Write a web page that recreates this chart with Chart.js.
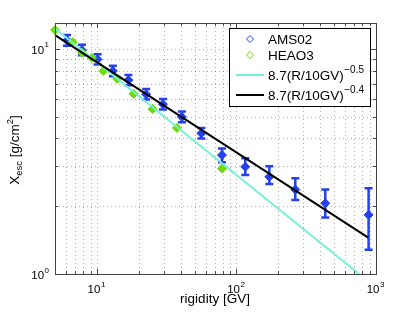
<!DOCTYPE html>
<html>
<head>
<meta charset="UTF-8">
<title>X_esc vs rigidity</title>
<script src="https://cdn.jsdelivr.net/npm/chart.js"></script>
<style>
  html, body { margin: 0; padding: 0; background: #fff; }
  canvas { display: block; }
</style>
</head>
<body>
<canvas id="myChart" width="415" height="312"></canvas>
<script>
  // AMS02 points with error bars
  const amsR = [6.1, 7.8, 10.1, 13.0, 16.8, 22.5, 29.7, 40.6, 56, 78.7, 115.6, 172, 264, 433, 885];
  const amsX = [10.9, 9.85, 8.96, 7.97, 7.25, 6.28, 5.67, 4.98, 4.21, 3.37, 2.99, 2.70, 2.37, 2.06, 1.83];
  const amsLo = [10.3, 9.35, 8.5, 7.55, 6.88, 5.95, 5.37, 4.72, 3.99, 3.13, 2.75, 2.51, 2.13, 1.78, 1.28];
  const amsHi = [11.5, 10.4, 9.45, 8.4, 7.65, 6.62, 5.98, 5.26, 4.45, 3.61, 3.26, 3.01, 2.66, 2.37, 2.40];

  // HEAO3 points
  const heaoR = [5.0, 6.7, 7.8, 9.2, 11.1, 14.0, 18.3, 25.0, 37.4, 78.7];
  const heaoX = [12.1, 10.7, 9.6, 9.1, 7.97, 7.35, 6.3, 5.4, 4.45, 2.94];

  // model lines, end points
  const lineR = [5, 757];
  const line05 = [12.3, 1.0];
  const lineR04 = [5, 880];
  const line04 = [11.48, 1.45];

  const xTicks = [5, 6, 7, 8, 9, 10, 20, 30, 40, 50, 60, 70, 80, 90, 100, 200, 300, 400, 500, 600, 700, 800, 900, 1000];
  const yTicks = [1, 2, 3, 4, 5, 6, 7, 8, 9, 10];
  const xMajor = [10, 100, 1000];
  const yMajor = [1, 10];

  const blue = 'rgb(35,65,235)';
  const green = 'rgb(110,220,0)';
  const cyan = 'rgb(120,240,215)';
  const axisColor = '#444';
  const FONT = '"Liberation Sans", Arial, sans-serif';

  function pts(xs, ys) {
    return xs.map((v, i) => ({ x: v, y: ys[i] }));
  }

  function drawPow(ctx, exp, x, y, align) {
    // "10" with superscript exponent, y = vertical middle of "10"
    ctx.font = '11.5px ' + FONT;
    const wb = ctx.measureText('10').width;
    ctx.font = '8px ' + FONT;
    const we = ctx.measureText(String(exp)).width;
    const total = wb + we + 0.5;
    let left = align === 'center' ? x - total / 2 : x - total;
    ctx.fillStyle = '#000';
    ctx.textAlign = 'left';
    ctx.textBaseline = 'alphabetic';
    ctx.font = '11.5px ' + FONT;
    ctx.fillText('10', left, y + 4.2);
    ctx.font = '8px ' + FONT;
    ctx.fillText(String(exp), left + wb + 0.5, y - 2.5);
  }

  const decor = {
    id: 'decor',
    beforeDatasetsDraw(chart) {
      const { ctx, chartArea: a, scales } = chart;
      const sx = scales.x, sy = scales.y;
      ctx.save();
      // dotted grid
      ctx.strokeStyle = 'rgba(0,0,0,0.3)';
      ctx.lineWidth = 1;
      ctx.setLineDash([1, 3]);
      xTicks.forEach(t => {
        const px = Math.round(sx.getPixelForValue(t)) + 0.5;
        if (px <= a.left + 1 || px >= a.right - 1) return;
        ctx.beginPath(); ctx.moveTo(px, a.top); ctx.lineTo(px, a.bottom); ctx.stroke();
      });
      yTicks.forEach(t => {
        const py = Math.round(sy.getPixelForValue(t)) + 0.5;
        if (py <= a.top + 1 || py >= a.bottom - 1) return;
        ctx.beginPath(); ctx.moveTo(a.left, py); ctx.lineTo(a.right, py); ctx.stroke();
      });
      ctx.setLineDash([]);
      // error bars
      ctx.strokeStyle = blue;
      ctx.lineWidth = 2.5;
      amsR.forEach((r, i) => {
        const px = sx.getPixelForValue(r);
        const p1 = sy.getPixelForValue(amsLo[i]);
        const p2 = sy.getPixelForValue(amsHi[i]);
        ctx.beginPath();
        ctx.moveTo(px, p1); ctx.lineTo(px, p2);
        ctx.moveTo(px - 4, p1); ctx.lineTo(px + 4, p1);
        ctx.moveTo(px - 4, p2); ctx.lineTo(px + 4, p2);
        ctx.stroke();
      });
      ctx.restore();
    },
    afterDraw(chart) {
      const { ctx, chartArea: a, scales } = chart;
      const sx = scales.x, sy = scales.y;
      ctx.save();
      // frame
      ctx.strokeStyle = axisColor;
      ctx.lineWidth = 1;
      ctx.strokeRect(Math.round(a.left) + 0.5, Math.round(a.top) + 0.5,
        Math.round(a.right - a.left), Math.round(a.bottom - a.top));
      // tick marks on all four sides
      ctx.beginPath();
      xTicks.forEach(t => {
        const px = Math.round(sx.getPixelForValue(t)) + 0.5;
        const len = xMajor.includes(t) ? 5 : 3;
        ctx.moveTo(px, a.bottom); ctx.lineTo(px, a.bottom - len);
        ctx.moveTo(px, a.top); ctx.lineTo(px, a.top + len);
      });
      yTicks.forEach(t => {
        const py = Math.round(sy.getPixelForValue(t)) + 0.5;
        const len = yMajor.includes(t) ? 5 : 3;
        ctx.moveTo(a.left, py); ctx.lineTo(a.left + len, py);
        ctx.moveTo(a.right, py); ctx.lineTo(a.right - len, py);
      });
      ctx.stroke();

      // tick labels
      xMajor.forEach(t => {
        drawPow(ctx, Math.round(Math.log10(t)), sx.getPixelForValue(t) - 0.5, 289, 'center');
      });
      yMajor.forEach(t => {
        drawPow(ctx, Math.round(Math.log10(t)), 49, sy.getPixelForValue(t) + 1, 'right');
      });

      // x axis title
      ctx.fillStyle = '#000';
      ctx.font = '13.5px ' + FONT;
      ctx.textAlign = 'center';
      ctx.textBaseline = 'alphabetic';
      ctx.fillText('rigidity [GV]', 215, 303);

      // y axis title, rotated
      ctx.save();
      ctx.translate(18.5, 150);
      ctx.rotate(-Math.PI / 2);
      const parts = [
        ['X', 13.5, 0], ['esc', 9.5, 3.5], [' [g/cm', 13.5, 0], ['2', 9.5, -5.5], [']', 13.5, 0]
      ];
      let w = 0;
      parts.forEach(p => { ctx.font = p[1] + 'px ' + FONT; w += ctx.measureText(p[0]).width; });
      let cx = -w / 2;
      ctx.textAlign = 'left';
      parts.forEach(p => {
        ctx.font = p[1] + 'px ' + FONT;
        ctx.fillText(p[0], cx, p[2]);
        cx += ctx.measureText(p[0]).width;
      });
      ctx.restore();

      // legend
      const lx = 229.5, ly = 28.5, lw = 141, lh = 78;
      ctx.fillStyle = '#fff';
      ctx.fillRect(lx, ly, lw, lh);
      ctx.strokeStyle = '#000';
      ctx.lineWidth = 1;
      ctx.strokeRect(lx, ly, lw, lh);

      function diamond(x, y, r, color) {
        ctx.beginPath();
        ctx.moveTo(x, y - r); ctx.lineTo(x + r, y); ctx.lineTo(x, y + r); ctx.lineTo(x - r, y);
        ctx.closePath();
        ctx.strokeStyle = color; ctx.lineWidth = 1; ctx.stroke();
      }
      diamond(250, 39, 3.5, blue);
      diamond(250, 55, 3.5, green);
      ctx.lineWidth = 2;
      ctx.strokeStyle = cyan;
      ctx.beginPath(); ctx.moveTo(236, 75); ctx.lineTo(264, 75); ctx.stroke();
      ctx.strokeStyle = '#000';
      ctx.beginPath(); ctx.moveTo(236, 95); ctx.lineTo(264, 95); ctx.stroke();

      ctx.fillStyle = '#000';
      ctx.textAlign = 'left';
      ctx.font = '13.5px ' + FONT;
      ctx.fillText('AMS02', 268, 44);
      ctx.fillText('HEAO3', 268, 60);
      const base = '8.7(R/10GV)';
      const bw = ctx.measureText(base).width;
      ctx.fillText(base, 268, 80);
      ctx.fillText(base, 268, 100);
      ctx.font = '10px ' + FONT;
      ctx.fillText('\u22120.5', 268 + bw + 0.5, 72.5);
      ctx.fillText('\u22120.4', 268 + bw + 0.5, 92.5);
      ctx.restore();
    }
  };

  const ctx = document.getElementById('myChart').getContext('2d');
  const myChart = new Chart(ctx, {
    type: 'scatter',
    data: {
      datasets: [
        {
          label: '8.7(R/10GV)^-0.4',
          data: pts(lineR04, line04),
          showLine: true,
          borderColor: '#000',
          borderWidth: 2,
          pointRadius: 0,
          clip: false,
          order: 0
        },
        {
          label: '8.7(R/10GV)^-0.5',
          data: pts(lineR, line05),
          showLine: true,
          borderColor: cyan,
          borderWidth: 2,
          pointRadius: 0,
          clip: false,
          order: 1
        },
        {
          label: 'HEAO3',
          data: pts(heaoR, heaoX),
          pointStyle: 'rectRot',
          pointRadius: 4.5,
          backgroundColor: green,
          borderColor: green,
          borderWidth: 1,
          clip: false,
          order: 2
        },
        {
          label: 'AMS02',
          data: pts(amsR, amsX),
          pointStyle: 'rectRot',
          pointRadius: 4.5,
          backgroundColor: blue,
          borderColor: blue,
          borderWidth: 1,
          clip: false,
          order: 3
        }
      ]
    },
    options: {
      responsive: false,
      devicePixelRatio: 1,
      animation: false,
      layout: { padding: { left: 55, right: 39, top: 23, bottom: 38 } },
      plugins: {
        legend: { display: false },
        tooltip: { enabled: false }
      },
      scales: {
        x: { type: 'logarithmic', min: 5, max: 1000, display: false },
        y: { type: 'logarithmic', min: 1, max: 13, display: false }
      }
    },
    plugins: [decor]
  });
</script>
</body>
</html>
